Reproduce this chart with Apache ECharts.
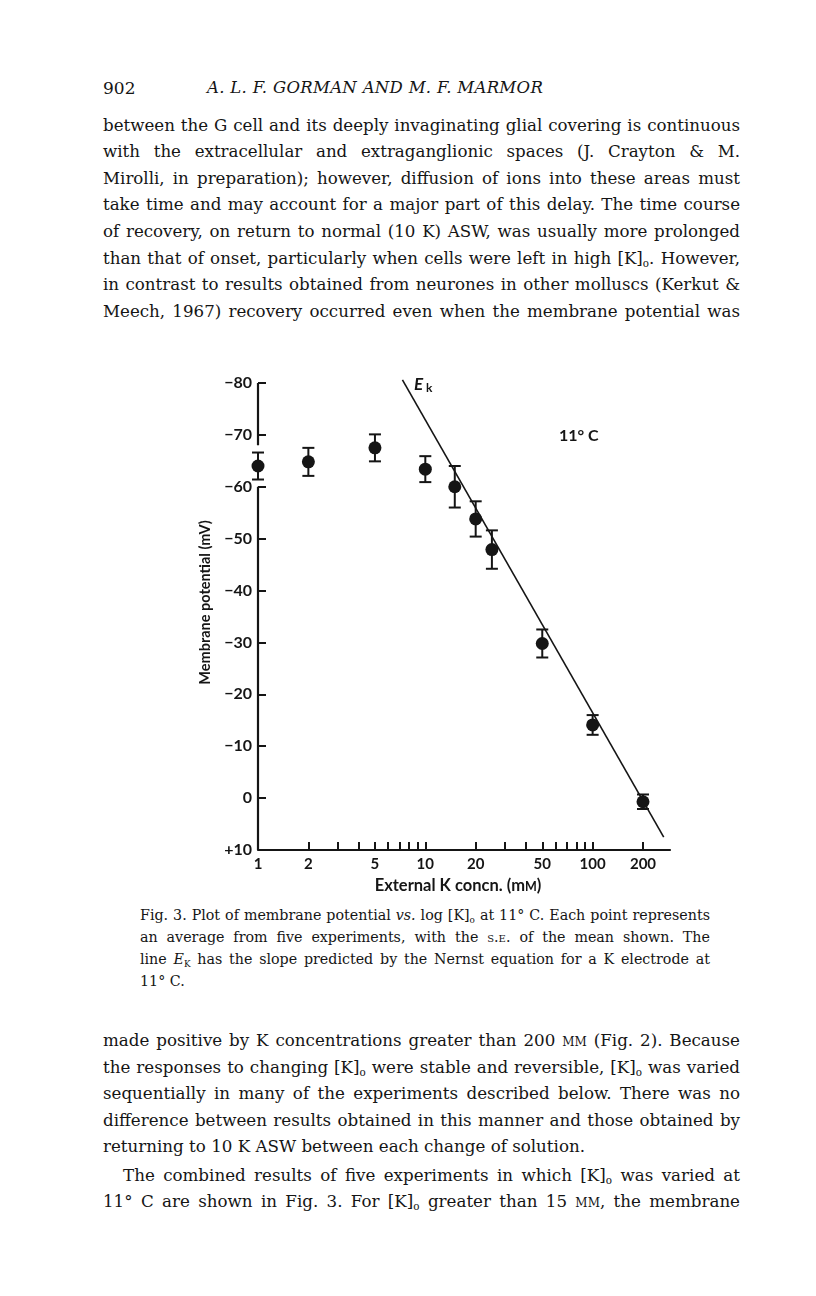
<!DOCTYPE html>
<html>
<head>
<meta charset="utf-8">
<title>Fig. 3</title>
<script src="https://cdn.jsdelivr.net/npm/echarts@6/dist/echarts.min.js"></script>
<style>
  html, body { margin: 0; padding: 0; background: #fff; }
  #page { position: relative; width: 816px; height: 1296px; overflow: hidden; font-family: 'DejaVu Serif', serif; color: #151515; }
  .ln { position: absolute; left: 103px; width: 637px; white-space: nowrap; text-align: justify; text-align-last: justify; font-size: 17px; line-height: 20px; }
  .cap { left: 140px; width: 570px; font-size: 14px; }
  .left { text-align-last: left; }
  .sc { font-variant: small-caps; }
  sub { font-size: 62%; vertical-align: -0.3em; line-height: 0; }
  #chart { position: absolute; left: 0; top: 340px; width: 816px; height: 560px; }
</style>
</head>
<body>
<div id="page">
  <div class="ln left" style="top:78px;font-size:17px;">902<span style="position:absolute;left:104px;font-style:italic;font-size:16.5px;letter-spacing:0.3px;">A. L. F. GORMAN AND M. F. MARMOR</span></div>

  <div class="ln p1" style="top:116px;">between the G cell and its deeply invaginating glial covering is continuous</div>
  <div class="ln p1" style="top:142px;">with the extracellular and extraganglionic spaces (J. Crayton &amp; M.</div>
  <div class="ln p1" style="top:169px;">Mirolli, in preparation); however, diffusion of ions into these areas must</div>
  <div class="ln p1" style="top:195px;">take time and may account for a major part of this delay. The time course</div>
  <div class="ln p1" style="top:222px;">of recovery, on return to normal (10 K) ASW, was usually more prolonged</div>
  <div class="ln p1" style="top:249px;">than that of onset, particularly when cells were left in high [K]<sub>o</sub>. However,</div>
  <div class="ln p1" style="top:275px;">in contrast to results obtained from neurones in other molluscs (Kerkut &amp;</div>
  <div class="ln p1" style="top:302px;">Meech, 1967) recovery occurred even when the membrane potential was</div>

  <div class="ln cap cp" style="top:905px;">Fig. 3. Plot of membrane potential <i>vs.</i> log [K]<sub>o</sub> at 11° C. Each point represents</div>
  <div class="ln cap cp" style="top:927px;">an average from five experiments, with the <span class="sc">s.e.</span> of the mean shown. The</div>
  <div class="ln cap cp" style="top:949px;">line <i>E</i><sub>K</sub> has the slope predicted by the Nernst equation for a K electrode at</div>
  <div class="ln cap cp left" style="top:971px;">11° C.</div>

  <div class="ln p2" style="top:1030px;">made positive by K concentrations greater than 200 <span class="sc">mm</span> (Fig. 2). Because</div>
  <div class="ln p2" style="top:1057px;">the responses to changing [K]<sub>o</sub> were stable and reversible, [K]<sub>o</sub> was varied</div>
  <div class="ln p2" style="top:1083px;">sequentially in many of the experiments described below. There was no</div>
  <div class="ln p2" style="top:1110px;">difference between results obtained in this manner and those obtained by</div>
  <div class="ln p2 left" style="top:1136px;">returning to 10 K ASW between each change of solution.</div>
  <div class="ln p2" style="top:1165px;left:123px;width:617px;">The combined results of five experiments in which [K]<sub>o</sub> was varied at</div>
  <div class="ln p2" style="top:1191px;">11° C are shown in Fig. 3. For [K]<sub>o</sub> greater than 15 <span class="sc">mm</span>, the membrane</div>

  <div id="chart"></div>
</div>

<script>
// 数据：外部K浓度 (mM) 与膜电位 (mV)，误差为均值标准误
var conc = [1, 2, 5, 10, 15, 20, 25, 50, 100, 200];
var potential = [-64, -64.8, -67.5, -63.4, -60, -53.8, -47.9, -29.8, -14.1, 0.7];
var sem = [2.6, 2.7, 2.6, 2.5, 4.0, 3.4, 3.7, 2.7, 1.9, 1.4];

// E_K 直线的两个端点
var ekConc = [7.3, 266];
var ekPotential = [-80.6, 7.5];

// 坐标轴刻度
var xTickValues = [2, 3, 4, 5, 6, 7, 8, 9, 10, 20, 30, 40, 50, 60, 70, 80, 90, 100, 200];
var xLabelValues = [1, 2, 5, 10, 20, 50, 100, 200];
var yMin = -80, yMax = 10, yStep = 10;
var yAxisBreak = [-68, -60]; // y轴断开的区间

var ink = '#151515';
var sans = "Lato, 'Open Sans', sans-serif";

// 正文每段按最紧的一行统一字号，其余行两端对齐
function fitBlock(cls) {
  var lines = document.querySelectorAll('.' + cls);
  var best = 40;
  lines.forEach(function (el) {
    if (el.classList.contains('left')) return;
    el.style.textAlign = 'left';
    el.style.textAlignLast = 'left';
    var r = document.createRange();
    r.selectNodeContents(el);
    var w = r.getBoundingClientRect().width;
    var fs = parseFloat(getComputedStyle(el).fontSize);
    best = Math.min(best, fs * el.clientWidth / w);
    el.style.textAlign = '';
    el.style.textAlignLast = '';
  });
  lines.forEach(function (el) { el.style.fontSize = (best * 0.99).toFixed(2) + 'px'; });
}
fitBlock('p1');
fitBlock('cp');
fitBlock('p2');

function renderErrorBar(params, api) {
  var x = api.value(0);
  var y = api.value(1);
  var e = api.value(2);
  var hi = api.coord([x, y - e]);
  var lo = api.coord([x, y + e]);
  var w = 6;
  var style = { stroke: ink, lineWidth: 2 };
  return {
    type: 'group',
    children: [
      { type: 'line', shape: { x1: hi[0], y1: hi[1], x2: lo[0], y2: lo[1] }, style: style },
      { type: 'line', shape: { x1: hi[0] - w, y1: hi[1], x2: hi[0] + w, y2: hi[1] }, style: style },
      { type: 'line', shape: { x1: lo[0] - w, y1: lo[1], x2: lo[0] + w, y2: lo[1] }, style: style }
    ]
  };
}

var chart = echarts.init(document.getElementById('chart'), null, { renderer: 'canvas' });

var points = conc.map(function (c, i) { return [c, potential[i]]; });
var bars = conc.map(function (c, i) { return [c, potential[i], sem[i]]; });
var ekLine = ekConc.map(function (c, i) { return [c, ekPotential[i]]; });

var option = {
  animation: false,
  backgroundColor: 'transparent',
  grid: { left: 258, right: 146, top: 43, bottom: 50 },
  xAxis: {
    type: 'log',
    logBase: 10,
    min: 1,
    max: 290,
    name: 'External K concn. (m{sc|M})',
    nameLocation: 'middle',
    nameGap: 24,
    nameTextStyle: {
      color: ink, fontFamily: sans, fontWeight: 'bold', fontSize: 16.5,
      padding: [0, 12, 0, 0],
      rich: { sc: { color: ink, fontFamily: sans, fontWeight: 'bold', fontSize: 12.5, verticalAlign: 'bottom' } }
    },
    axisLine: { show: true, onZero: false, lineStyle: { color: ink, width: 2.2 } },
    axisTick: { show: true, inside: true, length: 8, customValues: xTickValues, lineStyle: { color: ink, width: 2 } },
    axisLabel: {
      customValues: xLabelValues, margin: 7,
      color: ink, fontFamily: sans, fontWeight: 'bold', fontSize: 15
    },
    splitLine: { show: false },
    minorTick: { show: false }
  },
  yAxis: {
    type: 'value',
    inverse: true,
    min: yMin,
    max: yMax,
    interval: yStep,
    name: 'Membrane potential (mV)',
    nameLocation: 'middle',
    nameRotate: 90,
    nameGap: 40,
    nameTextStyle: { color: ink, fontFamily: sans, fontWeight: 'bold', fontSize: 14.5, padding: [0, 0, 0, 28] },
    axisLine: { show: false },
    axisTick: { show: true, inside: true, length: 8, lineStyle: { color: ink, width: 2 } },
    axisLabel: {
      margin: 6, color: ink, fontFamily: sans, fontWeight: 'bold', fontSize: 16,
      formatter: function (v) {
        if (v < 0) return '\u2212' + (-v);
        if (v > 0) return '+' + v;
        return '0';
      }
    },
    splitLine: { show: false }
  },
  graphic: [
    {
      type: 'text', left: 414, top: 36,
      style: {
        text: '{e|E}{k|k}',
        rich: {
          e: { fontFamily: sans, fontStyle: 'italic', fontWeight: 'bold', fontSize: 17, fill: ink },
          k: { fontFamily: sans, fontWeight: 'bold', fontSize: 12, fill: ink, padding: [8, 0, 0, 3] }
        }
      }
    },
    {
      type: 'text', left: 559, top: 88,
      style: { text: '11° C', fontFamily: sans, fontWeight: 'bold', fontSize: 16, fill: ink }
    }
  ],
  series: [
    {
      name: 'y-axis upper',
      type: 'line',
      data: [[1, yMin], [1, yAxisBreak[0]]],
      symbol: 'none', clip: false, silent: true,
      lineStyle: { color: ink, width: 2.2 }
    },
    {
      name: 'y-axis lower',
      type: 'line',
      data: [[1, yAxisBreak[1]], [1, yMax]],
      symbol: 'none', clip: false, silent: true,
      lineStyle: { color: ink, width: 2.2 }
    },
    {
      name: 'E_K',
      type: 'line',
      data: ekLine,
      symbol: 'none', clip: false,
      lineStyle: { color: ink, width: 1.6 }
    },
    {
      name: 'S.E.',
      type: 'custom',
      data: bars,
      renderItem: renderErrorBar,
      encode: { x: 0, y: 1 },
      clip: false,
      z: 3
    },
    {
      name: 'mean',
      type: 'scatter',
      data: points,
      symbol: 'circle',
      symbolSize: 13,
      clip: false,
      itemStyle: { color: ink, opacity: 1 },
      z: 4
    }
  ]
};

chart.setOption(option);
</script>
</body>
</html>
